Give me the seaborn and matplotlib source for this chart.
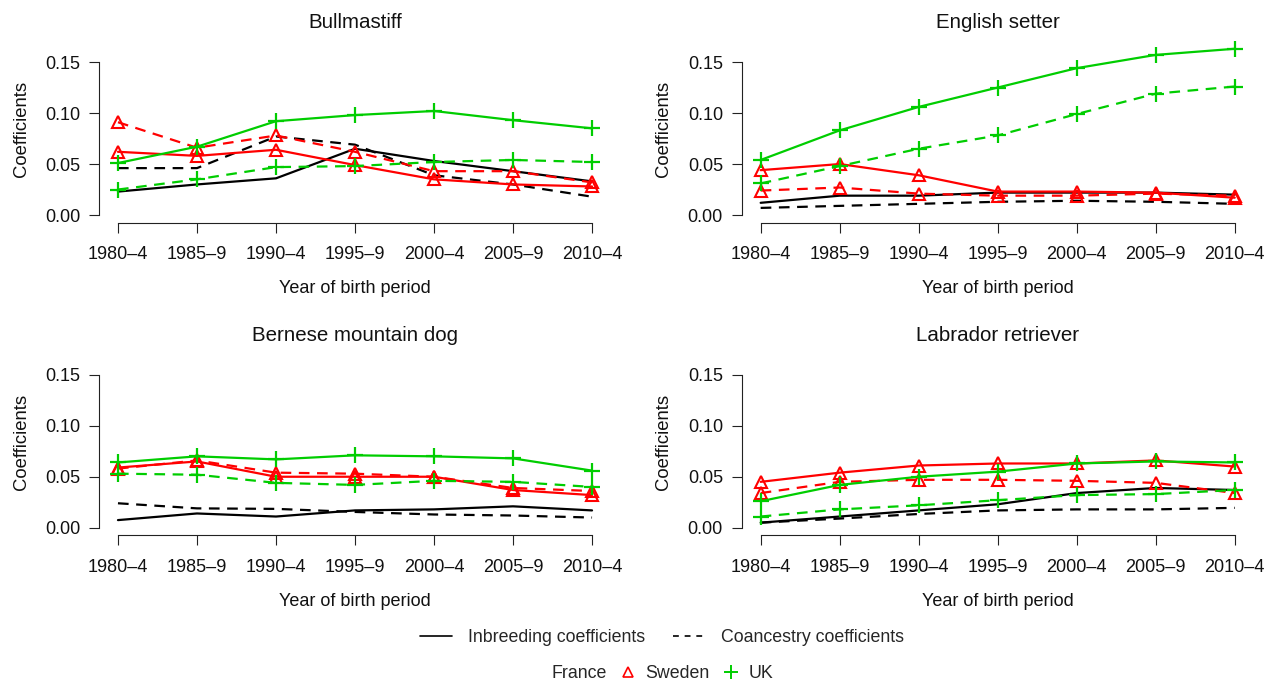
import matplotlib
matplotlib.use("Agg")
import matplotlib.pyplot as plt
from matplotlib.lines import Line2D
import seaborn as sns
import pandas as pd

periods = ["1980\u20134", "1985\u20139", "1990\u20134", "1995\u20139", "2000\u20134", "2005\u20139", "2010\u20134"]
breeds = ["Bullmastiff", "English setter", "Bernese mountain dog", "Labrador retriever"]
countries = ["France", "Sweden", "UK"]

# Bullmastiff
bull_france_inb = [0.023, 0.030, 0.036, 0.065, 0.053, 0.043, 0.033]
bull_france_coa = [0.046, 0.046, 0.077, 0.069, 0.039, 0.030, 0.018]
bull_sweden_inb = [0.062, 0.058, 0.064, 0.049, 0.035, 0.030, 0.028]
bull_sweden_coa = [0.091, 0.066, 0.078, 0.062, 0.043, 0.043, 0.032]
bull_uk_inb = [0.051, 0.067, 0.092, 0.098, 0.102, 0.093, 0.085]
bull_uk_coa = [0.025, 0.035, 0.047, 0.048, 0.052, 0.054, 0.052]

# English setter
eng_france_inb = [0.012, 0.019, 0.019, 0.022, 0.022, 0.022, 0.020]
eng_france_coa = [0.007, 0.009, 0.011, 0.013, 0.014, 0.013, 0.011]
eng_sweden_inb = [0.044, 0.050, 0.039, 0.023, 0.023, 0.022, 0.017]
eng_sweden_coa = [0.024, 0.027, 0.021, 0.019, 0.019, 0.021, 0.019]
eng_uk_inb = [0.054, 0.083, 0.106, 0.125, 0.144, 0.157, 0.163]
eng_uk_coa = [0.031, 0.048, 0.065, 0.078, 0.099, 0.119, 0.126]

# Bernese mountain dog
ber_france_inb = [0.0075, 0.014, 0.011, 0.017, 0.018, 0.021, 0.017]
ber_france_coa = [0.024, 0.019, 0.0185, 0.0155, 0.013, 0.012, 0.010]
ber_sweden_inb = [0.059, 0.065, 0.050, 0.050, 0.050, 0.037, 0.032]
ber_sweden_coa = [0.058, 0.066, 0.054, 0.053, 0.050, 0.039, 0.036]
ber_uk_inb = [0.064, 0.070, 0.067, 0.071, 0.070, 0.068, 0.056]
ber_uk_coa = [0.053, 0.052, 0.044, 0.042, 0.046, 0.045, 0.040]

# Labrador retriever
lab_france_inb = [0.005, 0.011, 0.017, 0.023, 0.034, 0.039, 0.037]
lab_france_coa = [0.005, 0.009, 0.0135, 0.017, 0.018, 0.018, 0.0195]
lab_sweden_inb = [0.045, 0.054, 0.061, 0.063, 0.063, 0.066, 0.060]
lab_sweden_coa = [0.034, 0.045, 0.047, 0.047, 0.046, 0.044, 0.034]
lab_uk_inb = [0.026, 0.042, 0.050, 0.055, 0.063, 0.065, 0.064]
lab_uk_coa = [0.011, 0.018, 0.022, 0.027, 0.032, 0.033, 0.037]

y_ticks = [0.00, 0.05, 0.10, 0.15]
y_tick_labels = ["0.00", "0.05", "0.10", "0.15"]

data = {
    "Bullmastiff": {"France": (bull_france_inb, bull_france_coa),
                    "Sweden": (bull_sweden_inb, bull_sweden_coa),
                    "UK": (bull_uk_inb, bull_uk_coa)},
    "English setter": {"France": (eng_france_inb, eng_france_coa),
                       "Sweden": (eng_sweden_inb, eng_sweden_coa),
                       "UK": (eng_uk_inb, eng_uk_coa)},
    "Bernese mountain dog": {"France": (ber_france_inb, ber_france_coa),
                             "Sweden": (ber_sweden_inb, ber_sweden_coa),
                             "UK": (ber_uk_inb, ber_uk_coa)},
    "Labrador retriever": {"France": (lab_france_inb, lab_france_coa),
                           "Sweden": (lab_sweden_inb, lab_sweden_coa),
                           "UK": (lab_uk_inb, lab_uk_coa)},
}

sns.set_theme(style="ticks")
plt.rcParams["font.family"] = ["Liberation Sans", "DejaVu Sans"]

colors = {"France": "black", "Sweden": "#FF0000", "UK": "#00CD00"}
DASH = (4.8, 3.4)
TXT = "#111111"

fig = plt.figure(figsize=(12.76, 6.81), dpi=100)
W, H = 1276, 681
positions = [
    (99, 222.7), (741.7, 222.7),
    (99, 535.4), (741.7, 535.4),
]
ax_w, ax_h = 512, 187.7

for breed, (lx, by) in zip(breeds, positions):
    ax = fig.add_axes([lx / W, (H - by) / H, ax_w / W, ax_h / H])
    for c in countries:
        inb, coa = data[breed][c]
        for vals, kind in ((coa, "coa"), (inb, "inb")):
            df = pd.DataFrame({"period": periods, "value": vals})
            kw = dict(color=colors[c], linewidth=1.6)
            if kind == "coa":
                kw["dashes"] = DASH
            if c == "Sweden":
                kw.update(marker="^", markersize=8.5, markerfacecolor="none",
                          markeredgecolor=colors[c], markeredgewidth=1.5)
            elif c == "UK":
                kw.update(marker="+", markersize=12, markeredgewidth=1.6,
                          markeredgecolor=colors[c])
            sns.lineplot(data=df, x="period", y="value", ax=ax, sort=False, **kw)
    ax.set_xlim(-0.24, 6.24)
    ax.set_ylim(-0.0075, 0.1765)
    ax.set_yticks(y_ticks)
    ax.set_yticklabels(y_tick_labels)
    ax.set_xticks(range(len(periods)))
    ax.set_xticklabels(periods)
    for s in ("top", "right"):
        ax.spines[s].set_visible(False)
    ax.spines["left"].set_bounds(0, 0.15)
    ax.spines["bottom"].set_bounds(0, 6)
    for s in ("left", "bottom"):
        ax.spines[s].set_linewidth(0.8)
        ax.spines[s].set_color("#222222")
    ax.tick_params(axis="both", length=7.5, width=0.8, color="#222222",
                   labelsize=13, labelcolor=TXT)
    ax.tick_params(axis="x", pad=9.5)
    ax.tick_params(axis="y", pad=6)
    ax.set_xlabel("Year of birth period", fontsize=13, labelpad=12, color=TXT)
    ax.set_ylabel("Coefficients", fontsize=13.3, labelpad=11, color=TXT)
    ax.set_title(breed, fontsize=14.8, pad=5, color=TXT)
    ax.set_facecolor("none")
    ax.grid(False)

# Legends
h_inb = Line2D([], [], color="black", linewidth=1.2)
h_coa = Line2D([], [], color="black", linewidth=1.2, dashes=(3.5, 3.5))
fig.legend([h_inb, h_coa], ["Inbreeding coefficients", "Coancestry coefficients"],
           loc="center", bbox_to_anchor=(662 / W, 1 - 638 / H), ncol=2,
           frameon=False, fontsize=12.8, handlelength=1.8, columnspacing=1.6,
           handletextpad=0.9)
h_fr = Line2D([], [], linestyle="none", marker=None)
h_sw = Line2D([], [], linestyle="none", marker="^", markersize=7,
              markerfacecolor="none", markeredgecolor="#FF0000", markeredgewidth=1.2)
h_uk = Line2D([], [], linestyle="none", marker="+", markersize=10,
              markeredgecolor="#00CD00", markeredgewidth=1.4)
fig.legend([h_fr, h_sw, h_uk], countries,
           loc="center", bbox_to_anchor=(649 / W, 1 - 674 / H), ncol=3,
           frameon=False, fontsize=12.8, handlelength=1.0, columnspacing=0.7,
           handletextpad=0.5)

fig.savefig("out.png", dpi=100)
